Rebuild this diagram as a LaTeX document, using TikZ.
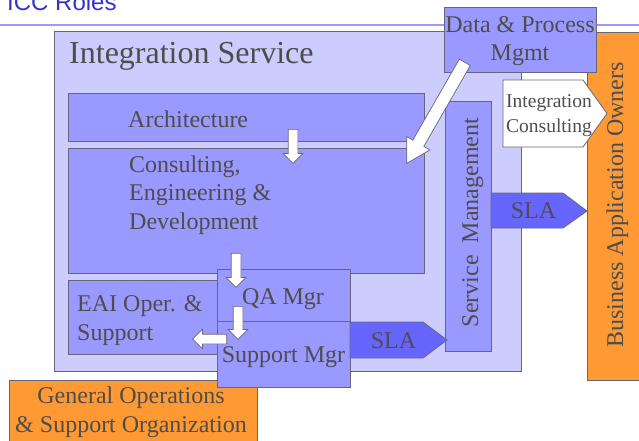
\documentclass[tikz,border=0pt]{standalone}
\usepackage{fontspec}
\setmainfont{Liberation Serif}
\newfontfamily\titlefont{Liberation Sans}
\usepackage{tikz}
\usetikzlibrary{shapes,arrows,calc}

\definecolor{serviceblue}{HTML}{CCCCFF}
\definecolor{roleblue}{HTML}{9999FF}
\definecolor{slablue}{HTML}{6666FF}
\definecolor{ownerorange}{HTML}{FF9933}
\definecolor{boxline}{HTML}{66667A}
\definecolor{textgray}{HTML}{4D4D4D}
\definecolor{titleblue}{HTML}{3333CC}

\tikzset{
  box/.style={draw=boxline, line width=0.8pt, fill=roleblue},
  txt/.style={text=textgray, inner sep=0, font=\fontsize{24}{28.5}\selectfont},
  fatarrow/.style={single arrow, draw=boxline, fill=white, line width=0.7pt,
    inner xsep=0, inner ysep=4.5pt, minimum width=0, single arrow head extend=5pt}
}

\begin{document}
\begin{tikzpicture}[x=1pt,y=-1pt]
\useasboundingbox (0,0) rectangle (639,440);
%-------->title<--------------
\node[anchor=base west, inner sep=0, text=titleblue, font=\titlefont\fontsize{24}{28}\selectfont] (title) at (7,10) {ICC Roles};
\draw[roleblue, line width=2pt] (0,25) -- (639,25);
%-------->boxes<--------------
\draw[box, fill=serviceblue] (54,31) rectangle (521,371); % integration service
\draw[box, fill=ownerorange] (587,32) rectangle (645,380); % business owners
\draw[box, fill=ownerorange] (9,380) rectangle (257,446); % general operations
\draw[box] (68,93) rectangle (424,141); % architecture
\draw[box] (68,148) rectangle (424,273); % consulting
\draw[box] (68,280) rectangle (222,354); % eai
\draw[box] (445,101) rectangle (491,351); % service management
\draw[box] (217,269) rectangle (350,321); % qa
\draw[box] (217,321) rectangle (350,387); % support
\draw[box, fill=slablue] (350,322) -- (423,322) -- (447,340) -- (423,358) -- (350,358) -- cycle;
\draw[box, fill=slablue] (491,193) -- (563,193) -- (587,211) -- (563,228) -- (491,228) -- cycle;
\draw[box, fill=white] (503,80) -- (583,80) -- (607,113.5) -- (583,147) -- (503,147) -- cycle;
\draw[box] (444,7) rectangle (596,72); % data & process
%-------->texts<--------------
\node[txt, anchor=base west, font=\fontsize{32}{36}\selectfont] (service) at (69,63) {Integration Service};
\node[txt, anchor=base west] (arch) at (128,127) {Architecture};
\node[txt, anchor=west, align=left] (consult) at (129,195) {Consulting,\\Engineering \&\\Development};
\node[txt, anchor=west, align=left] (eai) at (77,320.5) {EAI Oper. \&\\Support};
\node[txt, anchor=base] (qa) at (283,304) {QA Mgr};
\node[txt, anchor=base] (support) at (283.5,362) {Support Mgr};
\node[txt, anchor=base] (slaA) at (393.5,348) {SLA};
\node[txt, anchor=base] (slaB) at (533.5,218) {SLA};
\node[txt, align=center] (data) at (520,41) {Data \& Process\\Mgmt};
\node[txt, anchor=west, align=left, font=\fontsize{19.5}{25}\selectfont] (intcons) at (506,116) {Integration\\Consulting};
\node[txt, anchor=base, rotate=90] (svcmgmt) at (478,222.5) {Service\ \ Management};
\node[txt, anchor=base, rotate=90] (owners) at (623,205) {Business Application Owners};
\node[txt, align=center] (general) at (131,412.4) {General Operations\\\& Support Organization};
%-------->block arrows<--------------
\coordinate (archA) at (293,129);  \coordinate (consA) at (293,163);
\coordinate (consB) at (236,253);  \coordinate (qaA) at (236,287);
\coordinate (qaB) at (238,306);    \coordinate (suppA) at (238,339);
\coordinate (suppB) at (227,339);  \coordinate (eaiA) at (193,339);
\coordinate (dataA) at (465,62);   \coordinate (consC) at (407,163);
\foreach \s/\t [count=\i] in {archA/consA, consB/qaA, qaB/suppA, suppB/eaiA}
  \path let \p1=(\s), \p2=(\t), \n1={atan2(\y2-\y1,\x2-\x1)}, \n2={veclen(\x2-\x1,\y2-\y1)} in
    node[fatarrow, rotate=\n1, minimum height=\n2, anchor=tail] (arr\i) at (\s) {};
\path let \p1=(dataA), \p2=(consC), \n1={atan2(\y2-\y1,\x2-\x1)}, \n2={veclen(\x2-\x1,\y2-\y1)} in
  node[fatarrow, rotate=\n1, minimum height=\n2, anchor=tail, inner ysep=6pt,
    single arrow head extend=7pt, single arrow tip angle=60] (arr5) at (dataA) {};
\end{tikzpicture}
\end{document}
